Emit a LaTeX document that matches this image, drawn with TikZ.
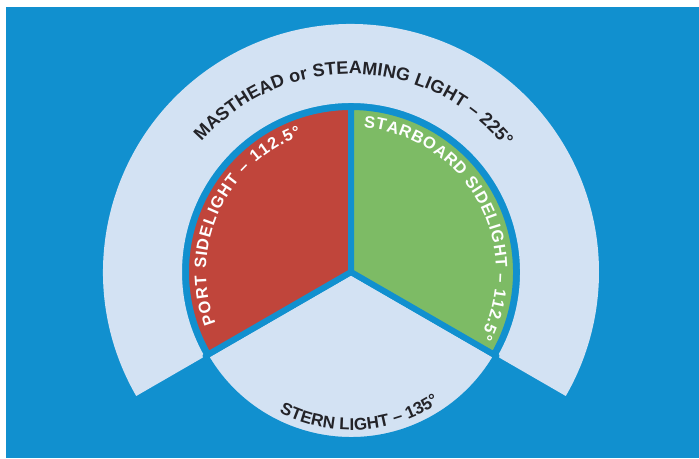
\documentclass[tikz,border=0pt]{standalone}
\usepackage{fontspec}
\setmainfont{Liberation Sans}
\usetikzlibrary{calc,decorations.text}
\definecolor{bgblue}{RGB}{17,144,207}
\definecolor{pale}{RGB}{211,226,243}
\definecolor{portred}{RGB}{192,69,59}
\definecolor{stbgreen}{RGB}{125,187,101}
\definecolor{ink}{RGB}{35,35,40}
\tikzset{
  sector/.style={draw=bgblue,line width=6pt,line join=round},
  arctext/.style={decorate,decoration={text along path,text={#1},text align=fit to path}}
}
\begin{document}
\begin{tikzpicture}[x=1pt,y=1pt]
\useasboundingbox (0,0) rectangle (699,458);
\fill[white] (0,0) rectangle (699,458);
\fill[bgblue] (6,0) rectangle (699,451);
\coordinate (C) at (351,186);
% masthead ring
\fill[pale] ($(C)+(210:248)$) arc[start angle=210,end angle=-30,radius=248]
  -- ($(C)+(-30:169)$) arc[start angle=-30,end angle=210,radius=169] -- cycle;
% sectors
\filldraw[sector,fill=pale] (C) -- ($(C)+(210:168)$) arc[start angle=210,end angle=330,radius=168] -- cycle;
\filldraw[sector,fill=portred] (C) -- ($(C)+(90:165)$) arc[start angle=90,end angle=210,radius=165] -- cycle;
\filldraw[sector,fill=stbgreen] (C) -- ($(C)+(-30:165)$) arc[start angle=-30,end angle=90,radius=165] -- cycle;
% labels
\path[arctext={|\bfseries\fontsize{18}{18}\selectfont\color{ink}|MASTHEAD or STEAMING LIGHT – 225°}]
  ($(C)+(139:198)$) arc[start angle=139,end angle=39,radius=198];
\path[arctext={|\bfseries\fontsize{16.5}{16.5}\selectfont\color{white}|PORT SIDELIGHT – 112.5°}]
  ($(C)+(201:145)$) arc[start angle=201,end angle=110,radius=145];
\path[arctext={|\bfseries\fontsize{16.5}{16.5}\selectfont\color{white}|STARBOARD SIDELIGHT – 112.5°}]
  ($(C)+(85:145)$) arc[start angle=85,end angle=-27,radius=145];
\path[arctext={|\bfseries\fontsize{17}{17}\selectfont\color{ink}|STERN LIGHT – 135°}]
  ($(C)+(243:158)$) arc[start angle=243,end angle=304,radius=158];
\end{tikzpicture}
\end{document}
